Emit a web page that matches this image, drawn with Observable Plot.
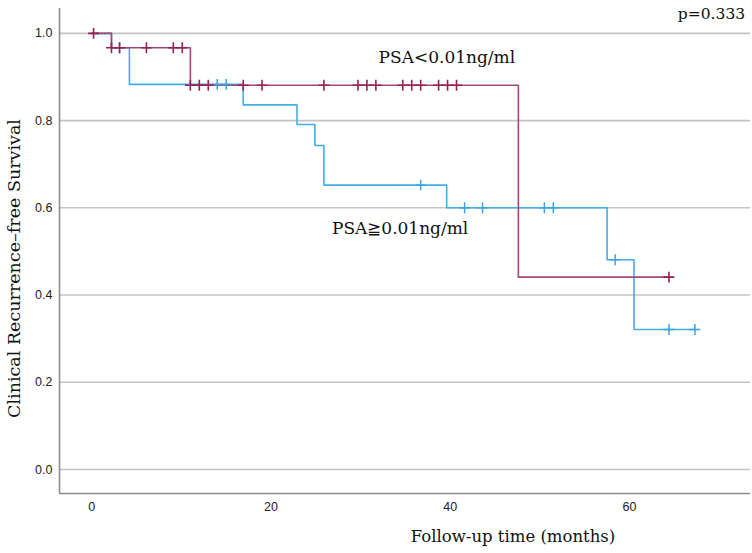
<!DOCTYPE html>
<html>
<head>
<meta charset="utf-8">
<script src="https://cdn.jsdelivr.net/npm/d3@7"></script>
<script src="https://cdn.jsdelivr.net/npm/@observablehq/plot@0.6"></script>
<style>
  html, body { margin: 0; padding: 0; background: #fff; }
  #chart svg { display: block; }
</style>
</head>
<body>
<div id="chart"></div>
<script>
// Kaplan-Meier step data (time in months, survival after that time)
const lowTimes = [0, 2.2, 11.0, 47.6, 64.4];
const lowSurv  = [1.0, 0.967, 0.881, 0.441, 0.441];
const lowCensorTimes = [0.2, 2.2, 3.1, 6.1, 9.1, 10.1, 11.0, 12.0, 13.0, 16.9, 19.0, 25.9, 29.7, 30.7, 31.7, 34.7, 35.7, 36.7, 38.7, 39.7, 40.7, 64.4];
const lowCensorSurv  = [1.0, 0.967, 0.967, 0.967, 0.967, 0.967, 0.881, 0.881, 0.881, 0.881, 0.881, 0.881, 0.881, 0.881, 0.881, 0.881, 0.881, 0.881, 0.881, 0.881, 0.881, 0.441];

const highTimes = [0, 2.2, 4.2, 16.9, 22.9, 24.9, 25.9, 39.6, 57.5, 60.5, 67.3];
const highSurv  = [1.0, 0.967, 0.883, 0.836, 0.791, 0.743, 0.652, 0.600, 0.481, 0.321, 0.321];
const highCensorTimes = [3.1, 14.0, 15.0, 36.7, 41.6, 43.6, 50.5, 51.5, 58.4, 64.4, 67.3];
const highCensorSurv  = [0.967, 0.883, 0.883, 0.652, 0.600, 0.600, 0.600, 0.600, 0.481, 0.321, 0.321];

const xTicks = [0, 20, 40, 60];
const yTicks = [0, 0.2, 0.4, 0.6, 0.8, 1.0];

const labels = {
  low: "PSA<0.01ng/ml",
  high: "PSA\u22670.01ng/ml",
  p: "p=0.333",
  x: "Follow-up time (months)",
  y: "Clinical Recurrence\u2013free Survival"
};
const labelPos = {low: [32.0, 0.945], high: [26.8, 0.553], p: [72.9, 1.044]};

const colLow = "#a2487a", colLowMark = "#962152";
const colHigh = "#45ade6", colHighMark = "#3ba3e0";

const toRows = (ts, ss) => ts.map((t, i) => ({t, s: ss[i]}));
const lowLine = toRows(lowTimes, lowSurv);
const highLine = toRows(highTimes, highSurv);
const lowCens = toRows(lowCensorTimes, lowCensorSurv);
const highCens = toRows(highCensorTimes, highCensorSurv);

const xDom = [-3.6, 73.5], yDom = [-0.055, 1.057];
const serif = "'DejaVu Serif', 'Liberation Serif', serif";

const chart = Plot.plot({
  width: 752, height: 553,
  marginLeft: 59, marginRight: 2, marginTop: 8, marginBottom: 60,
  style: {fontFamily: "'Liberation Sans', Arial, sans-serif", fontSize: "12.5px", color: "#222", background: "#fff"},
  x: {domain: xDom},
  y: {domain: yDom},
  marks: [
    Plot.gridY(yTicks, {stroke: "#c4c4c4", strokeOpacity: 1, strokeWidth: 1.6}),
    Plot.ruleX([xDom[0]], {stroke: "#8c8c8c", strokeWidth: 1.6}),
    Plot.ruleY([yDom[0]], {stroke: "#8c8c8c", strokeWidth: 1.6}),
    Plot.axisX(xTicks, {tickSize: 0, tickPadding: 9, label: null, fill: "#222"}),
    Plot.axisY(yTicks, {tickSize: 0, tickPadding: 7, label: null, tickFormat: d3.format(".1f"), fill: "#222"}),
    Plot.line(highLine, {x: "t", y: "s", curve: "step-after", stroke: colHigh, strokeWidth: 1.6}),
    Plot.line(lowLine, {x: "t", y: "s", curve: "step-after", stroke: colLow, strokeWidth: 1.6}),
    Plot.dot(highCens, {x: "t", y: "s", symbol: "plus", r: 3.6, stroke: colHighMark, strokeWidth: 1.5}),
    Plot.dot(lowCens, {x: "t", y: "s", symbol: "plus", r: 3.6, stroke: colLowMark, strokeWidth: 1.6}),
    Plot.text([labels.low], {x: () => labelPos.low[0], y: () => labelPos.low[1], text: d => d, textAnchor: "start", fontFamily: serif, fontSize: 17, fill: "#111"}),
    Plot.text([labels.high], {x: () => labelPos.high[0], y: () => labelPos.high[1], text: d => d, textAnchor: "start", fontFamily: serif, fontSize: 17, fill: "#111"}),
    Plot.text([labels.p], {x: () => labelPos.p[0], y: () => labelPos.p[1], text: d => d, textAnchor: "end", fontFamily: serif, fontSize: 15.5, fill: "#111"}),
    Plot.text([labels.x], {frameAnchor: "bottom", text: d => d, textAnchor: "middle", dx: 108, dy: 48, fontFamily: serif, fontSize: 16.5, fill: "#111"}),
    Plot.text([labels.y], {frameAnchor: "left", text: d => d, textAnchor: "middle", rotate: -90, dx: -45, dy: 17.5, fontFamily: serif, fontSize: 17.5, fill: "#111"})
  ]
});
document.getElementById("chart").appendChild(chart);
</script>
</body>
</html>
